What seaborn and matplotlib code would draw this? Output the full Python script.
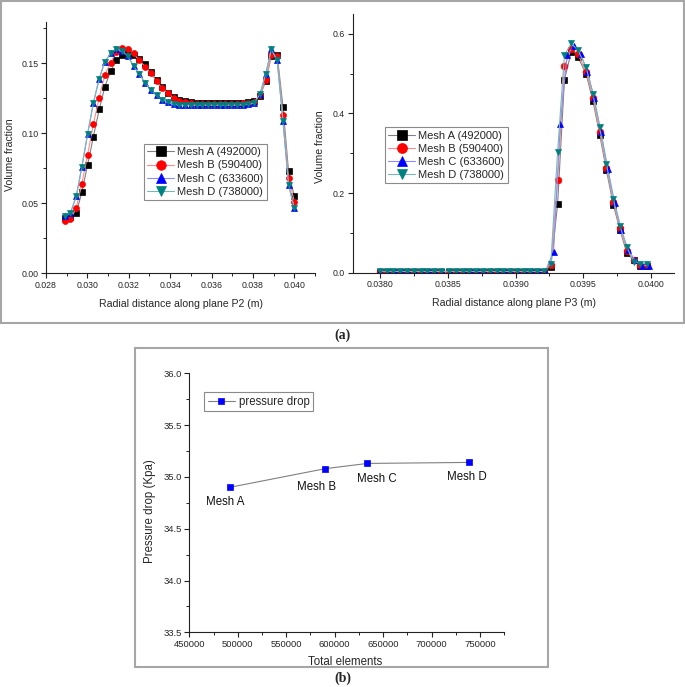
import numpy as np
import pandas as pd
import matplotlib
matplotlib.use("Agg")
import matplotlib.pyplot as plt
import seaborn as sns
from matplotlib.patches import Rectangle
from matplotlib.ticker import MultipleLocator, FormatStrFormatter

sns.set_theme(style="ticks")
plt.rcParams['font.family'] = ['Liberation Sans', 'DejaVu Sans']

# ---------------- data: plane P2 ----------------
x_p2 = [0.02890, 0.02918, 0.02946, 0.02973, 0.03001, 0.03029, 0.03057, 0.03084,
        0.03112, 0.03140, 0.03168, 0.03195, 0.03223, 0.03251, 0.03279, 0.03306,
        0.03334, 0.03362, 0.03390, 0.03417, 0.03445, 0.03473, 0.03501, 0.03528,
        0.03556, 0.03584, 0.03612, 0.03639, 0.03667, 0.03695, 0.03723, 0.03750,
        0.03778, 0.03806, 0.03834, 0.03861, 0.03889, 0.03917, 0.03945, 0.03972,
        0.04000]
p2_mesh_a = [0.0390, 0.0400, 0.0429, 0.0576, 0.0774, 0.0976, 0.1170, 0.1330,
             0.1445, 0.1520, 0.1560, 0.1570, 0.1560, 0.1530, 0.1495, 0.1436,
             0.1380, 0.1330, 0.1290, 0.1260, 0.1240, 0.1230, 0.1222, 0.1217,
             0.1215, 0.1215, 0.1215, 0.1215, 0.1215, 0.1215, 0.1216, 0.1218,
             0.1222, 0.1230, 0.1265, 0.1370, 0.1550, 0.1560, 0.1190, 0.0726,
             0.0548]
p2_mesh_b = [0.0375, 0.0386, 0.0464, 0.0638, 0.0846, 0.1065, 0.1255, 0.1415,
             0.1505, 0.1580, 0.1610, 0.1605, 0.1570, 0.1520, 0.1476, 0.1429,
             0.1370, 0.1320, 0.1286, 0.1250, 0.1230, 0.1224, 0.1218, 0.1212,
             0.1210, 0.1210, 0.1210, 0.1210, 0.1210, 0.1210, 0.1211, 0.1213,
             0.1216, 0.1225, 0.1270, 0.1380, 0.1560, 0.1550, 0.1130, 0.0680,
             0.0510]
p2_mesh_c = [0.0405, 0.0429, 0.0548, 0.0757, 0.0995, 0.1217, 0.1390, 0.1510,
             0.1570, 0.1600, 0.1590, 0.1550, 0.1480, 0.1420, 0.1360, 0.1310,
             0.1270, 0.1240, 0.1220, 0.1207, 0.1202, 0.1200, 0.1200, 0.1200,
             0.1200, 0.1200, 0.1200, 0.1200, 0.1200, 0.1200, 0.1201, 0.1203,
             0.1207, 0.1215, 0.1280, 0.1420, 0.1600, 0.1520, 0.1090, 0.0630,
             0.0464]
p2_mesh_d = [0.0405, 0.0429, 0.0548, 0.0757, 0.0995, 0.1217, 0.1390, 0.1510,
             0.1570, 0.1600, 0.1590, 0.1550, 0.1480, 0.1420, 0.1360, 0.1310,
             0.1270, 0.1240, 0.1220, 0.1207, 0.1202, 0.1200, 0.1200, 0.1200,
             0.1200, 0.1200, 0.1200, 0.1200, 0.1200, 0.1200, 0.1201, 0.1203,
             0.1207, 0.1215, 0.1280, 0.1420, 0.1600, 0.1520, 0.1090, 0.0630,
             0.0464]

# ---------------- data: plane P3 ----------------
x_p3 = [0.03800, 0.03805, 0.03810, 0.03815, 0.03820, 0.03825, 0.03830, 0.03835,
        0.03840, 0.03845, 0.03851, 0.03856, 0.03861, 0.03866, 0.03871, 0.03876,
        0.03881, 0.03886, 0.03891, 0.03896, 0.03901, 0.03906, 0.03911, 0.03916,
        0.03921, 0.03926, 0.03931, 0.03936, 0.03941, 0.03946, 0.03952, 0.03957,
        0.03962, 0.03967, 0.03972, 0.03977, 0.03982, 0.03987, 0.03992, 0.03997]
x_p3_c = [0.03800, 0.03806, 0.03811, 0.03816, 0.03821, 0.03826, 0.03831, 0.03836,
          0.03841, 0.03846, 0.03852, 0.03857, 0.03862, 0.03867, 0.03872, 0.03877,
          0.03882, 0.03887, 0.03892, 0.03897, 0.03902, 0.03907, 0.03912, 0.03917,
          0.03922, 0.03928, 0.03933, 0.03938, 0.03943, 0.03948, 0.03953, 0.03958,
          0.03963, 0.03968, 0.03973, 0.03978, 0.03983, 0.03988, 0.03993, 0.03998]
p3_mesh_a = [0.002] * 25 + [0.015, 0.172, 0.484, 0.554, 0.542, 0.499, 0.432, 0.347,
                            0.257, 0.171, 0.107, 0.049, 0.032, 0.018, 0.018]
p3_mesh_b = [0.002] * 25 + [0.020, 0.233, 0.518, 0.561, 0.549, 0.505, 0.440, 0.354,
                            0.264, 0.178, 0.111, 0.055, 0.032, 0.019, 0.019]
p3_mesh_c = [0.003] * 25 + [0.053, 0.374, 0.547, 0.570, 0.549, 0.505, 0.438, 0.353,
                            0.261, 0.176, 0.107, 0.057, 0.032, 0.018, 0.018]
p3_mesh_d = [0.003] * 25 + [0.023, 0.304, 0.546, 0.576, 0.559, 0.516, 0.449, 0.365,
                            0.272, 0.185, 0.116, 0.064, 0.028, 0.023, 0.023]

mesh_labels = ['Mesh A (492000)', 'Mesh B (590400)', 'Mesh C (633600)', 'Mesh D (738000)']

# ---------------- data: pressure drop ----------------
total_elements = [492000, 590400, 633600, 738000]
pressure_drop = [34.90, 35.08, 35.13, 35.14]
mesh_names = ['Mesh A', 'Mesh B', 'Mesh C', 'Mesh D']

# ---------------- styles ----------------
styles = [
    dict(marker='s', mfc='#000000', lc='#808080'),
    dict(marker='o', mfc='#ff0000', lc='#ff8c8c'),
    dict(marker='^', mfc='#0000ff', lc='#8c8cff'),
    dict(marker='v', mfc='#008080', lc='#7ab8b8'),
]

fig = plt.figure(figsize=(6.85, 6.87), dpi=100)
ax1 = fig.add_axes([0.0672, 0.6026, 0.3927, 0.3654])
ax2 = fig.add_axes([0.5149, 0.6031, 0.4695, 0.3766])
ax3 = fig.add_axes([0.2764, 0.0796, 0.4599, 0.3770])


def draw(ax, xs, ys, st, label, ms):
    df = pd.DataFrame({'x': xs, 'y': ys})
    sns.lineplot(data=df, x='x', y='y', ax=ax, color=st['lc'], lw=0.8,
                 marker=st['marker'], markersize=ms, markerfacecolor=st['mfc'],
                 markeredgecolor=st['mfc'], markeredgewidth=0.5,
                 label=label, sort=False, estimator=None)


p2_series = [p2_mesh_a, p2_mesh_b, p2_mesh_c, p2_mesh_d]
for ys, st, lab in zip(p2_series, styles, mesh_labels):
    draw(ax1, x_p2, ys, st, lab, 4.3)

p3_x = [x_p3, x_p3, x_p3_c, x_p3]
p3_series = [p3_mesh_a, p3_mesh_b, p3_mesh_c, p3_mesh_d]
for xs, ys, st, lab in zip(p3_x, p3_series, styles, mesh_labels):
    draw(ax2, xs, ys, st, lab, 4.8)

df3 = pd.DataFrame({'elements': total_elements, 'dp': pressure_drop})
sns.lineplot(data=df3, x='elements', y='dp', ax=ax3, color='#808080', lw=0.8,
             marker='s', markersize=4, markerfacecolor='#0000ff',
             markeredgecolor='#0000ff', markeredgewidth=0.5,
             label='pressure drop', sort=False, estimator=None)

offsets = [(-3.6, -10.4), (-6.3, -13.0), (6.8, -11.2), (-1.2, -10.3)]
for xv, yv, name, off in zip(total_elements, pressure_drop, mesh_names, offsets):
    ax3.annotate(name, (xv, yv), xytext=off, textcoords='offset points',
                 ha='center', va='center', fontsize=8.3, color='#111111')

# ---------------- axes formatting ----------------
for ax in (ax1, ax2, ax3):
    sns.despine(ax=ax)
    ax.set_facecolor('white')
    for sp in ('left', 'bottom'):
        ax.spines[sp].set_color('#222222')
        ax.spines[sp].set_linewidth(0.8)
    ax.tick_params(which='major', direction='out', length=3.5, width=0.8,
                   color='#222222', pad=2)
    ax.tick_params(which='minor', direction='out', length=2, width=0.7,
                   color='#222222')

ax1.set_xlim(0.028, 0.041)
ax1.set_ylim(0, 0.1795)
ax1.xaxis.set_major_locator(MultipleLocator(0.002))
ax1.xaxis.set_minor_locator(MultipleLocator(0.001))
ax1.yaxis.set_major_locator(MultipleLocator(0.05))
ax1.yaxis.set_minor_locator(MultipleLocator(0.025))
ax1.xaxis.set_major_formatter(FormatStrFormatter('%.3f'))
ax1.yaxis.set_major_formatter(FormatStrFormatter('%.2f'))
ax1.tick_params(labelsize=6.3)

ax2.set_xlim(0.03780, 0.04017)
ax2.set_ylim(0, 0.65)
ax2.xaxis.set_major_locator(MultipleLocator(0.0005))
ax2.xaxis.set_minor_locator(MultipleLocator(0.00025))
ax2.yaxis.set_major_locator(MultipleLocator(0.2))
ax2.yaxis.set_minor_locator(MultipleLocator(0.1))
ax2.xaxis.set_major_formatter(FormatStrFormatter('%.4f'))
ax2.yaxis.set_major_formatter(FormatStrFormatter('%.1f'))
ax2.tick_params(labelsize=6.3)

ax3.set_xlim(450000, 775000)
ax3.set_ylim(33.5, 36.0)
ax3.xaxis.set_major_locator(MultipleLocator(50000))
ax3.xaxis.set_minor_locator(MultipleLocator(25000))
ax3.yaxis.set_major_locator(MultipleLocator(0.5))
ax3.yaxis.set_minor_locator(MultipleLocator(0.25))
ax3.xaxis.set_major_formatter(FormatStrFormatter('%d'))
ax3.yaxis.set_major_formatter(FormatStrFormatter('%.1f'))
ax3.tick_params(labelsize=6.8)

# labels
ax1.set_xlabel('Radial distance along plane P2 (m)', fontsize=7.6, va='center')
ax1.xaxis.set_label_coords(0.5, -0.1235)
ax1.set_ylabel('Volume fraction', fontsize=7.6, va='center')
ax1.yaxis.set_label_coords(-0.135, 0.47)

ax2.set_xlabel('Radial distance along plane P3 (m)', fontsize=7.6, va='center')
ax2.xaxis.set_label_coords(0.5, -0.117)
ax2.set_ylabel('Volume fraction', fontsize=7.6, va='center')
ax2.yaxis.set_label_coords(-0.102, 0.486)

ax3.set_xlabel('Total elements', fontsize=8.3, va='center')
ax3.xaxis.set_label_coords(0.494, -0.1135)
ax3.set_ylabel('Pressure drop (Kpa)', fontsize=8.3, va='center')
ax3.yaxis.set_label_coords(-0.125, 0.469)

# legends
leg_kw = dict(loc='upper left', frameon=True, fancybox=False, framealpha=1,
              edgecolor='#8a8a8a', borderpad=0.3, labelspacing=0.28,
              handletextpad=0.3, borderaxespad=0, handlelength=2.4)
l1 = ax1.legend(bbox_to_anchor=(0.364, 0.514), fontsize=8, markerscale=1.6, **leg_kw)
l2 = ax2.legend(bbox_to_anchor=(0.100, 0.562), fontsize=8, markerscale=1.5, **leg_kw)
l3 = ax3.legend(bbox_to_anchor=(0.047, 0.927), fontsize=8.3, markerscale=1.2, **leg_kw)
for lg in (l1, l2, l3):
    lg.get_frame().set_linewidth(0.8)

# panel captions
fig.text(0.5007, 1 - 335 / 687, '(a)', ha='center', va='center', fontsize=10,
         fontweight='bold', family=['Liberation Serif', 'DejaVu Serif'])
fig.text(0.5007, 1 - 678 / 687, '(b)', ha='center', va='center', fontsize=10,
         fontweight='bold', family=['Liberation Serif', 'DejaVu Serif'])

# border boxes
fig.add_artist(Rectangle((1.3 / 685, (687 - 323) / 687), (683.5 - 1.3) / 685,
                         (323 - 1.3) / 687, transform=fig.transFigure, fill=False,
                         edgecolor='#a6a6a6', lw=1.5))
fig.add_artist(Rectangle((135 / 685, (687 - 666.7) / 687), 413 / 685,
                         318.4 / 687, transform=fig.transFigure, fill=False,
                         edgecolor='#a6a6a6', lw=1.5))

fig.savefig('out.png', dpi=100, facecolor='white')
